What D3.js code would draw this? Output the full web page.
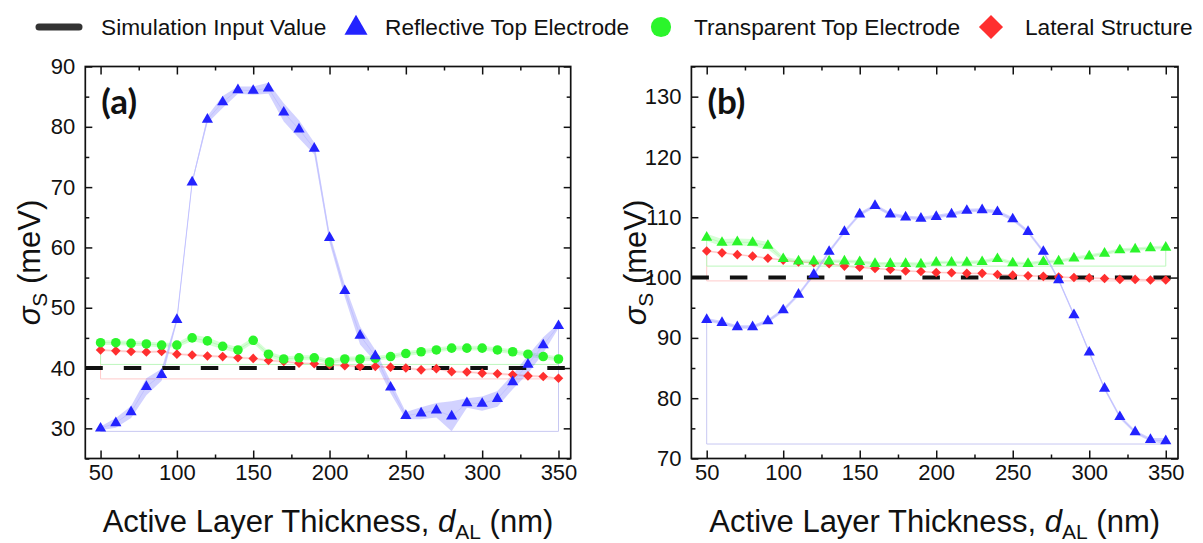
<!DOCTYPE html>
<html>
<head>
<meta charset="utf-8">
<script src="https://cdn.jsdelivr.net/npm/d3@7"></script>
<style>
  html, body { margin: 0; padding: 0; background: #fff; }
  svg { display: block; font-family: "Liberation Sans", Arial, sans-serif; }
</style>
</head>
<body>
<svg id="chart" width="1203" height="543"></svg>
<script>
// Active layer thickness (nm)
const thickness = [50, 60, 70, 80, 90, 100, 110, 120, 130, 140, 150, 160, 170, 180, 190, 200,
                   210, 220, 230, 240, 250, 260, 270, 280, 290, 300, 310, 320, 330, 340, 350];

// Panel (a): input sigma = 40 meV
const inputA = 40;
const reflectiveA = [30.0, 30.9, 32.7, 36.9, 38.9, 48.0, 70.8, 81.2, 84.1, 86.1, 86.0, 86.4, 82.4, 79.6, 76.4, 61.6,
                     52.8, 45.4, 42.0, 36.8, 32.1, 32.5, 33.0, 32.0, 34.2, 34.1, 34.9, 37.7, 40.6, 43.8, 47.0];
const reflectiveErrA = [0.3, 0.8, 1.0, 1.4, 1.0, 0.4, 0.3, 0.6, 1.0, 0.6, 0.7, 0.9, 1.5, 1.5, 1.0, 0.8,
                        1.0, 1.5, 1.0, 1.0, 0.6, 1.0, 1.2, 2.5, 0.8, 1.2, 1.3, 1.2, 1.5, 1.3, 0.4];
const transparentA = [44.2, 44.2, 44.1, 44.0, 43.8, 43.8, 45.0, 44.5, 43.6, 43.0, 44.6, 42.3, 41.5, 41.7, 41.7, 41.0,
                      41.5, 41.5, 41.6, 41.9, 42.4, 42.7, 43.0, 43.3, 43.3, 43.3, 43.0, 42.7, 42.3, 41.9, 41.5];
const transparentErrA = [0.4, 0.4, 0.4, 0.4, 0.4, 0.4, 0.5, 0.6, 0.5, 0.5, 0.5, 0.5, 0.4, 0.4, 0.4, 0.4,
                         0.4, 0.4, 0.4, 0.4, 0.4, 0.4, 0.4, 0.4, 0.4, 0.4, 0.4, 0.4, 0.4, 0.4, 0.4];
const lateralA = [43.0, 42.85, 42.75, 42.65, 42.75, 42.3, 42.15, 42.0, 41.9, 41.7, 41.6, 41.25, 41.1, 40.8, 40.7, 40.55,
                  40.4, 40.25, 40.25, 40.15, 40.0, 39.7, 39.9, 39.4, 39.35, 39.15, 39.05, 38.9, 38.7, 38.6, 38.3];
const lateralErrA = [0.2, 0.2, 0.2, 0.2, 0.2, 0.2, 0.2, 0.2, 0.2, 0.2, 0.2, 0.2, 0.2, 0.2, 0.2, 0.2,
                     0.2, 0.2, 0.2, 0.2, 0.2, 0.2, 0.2, 0.2, 0.2, 0.2, 0.2, 0.2, 0.2, 0.2, 0.1];

// Panel (b): input sigma = 100 meV
const inputB = 100;
const reflectiveB = [93.0, 92.5, 91.8, 91.8, 92.8, 94.6, 97.2, 100.5, 104.3, 107.6, 110.5, 111.9, 110.5, 110.0, 109.8, 110.1,
                     110.5, 111.1, 111.2, 110.9, 109.7, 107.6, 104.3, 99.6, 93.8, 87.6, 81.6, 76.9, 74.4, 73.1, 72.9];
const reflectiveErrB = [0.3, 0.3, 0.3, 0.3, 0.3, 0.3, 0.3, 0.3, 0.3, 0.3, 0.3, 0.3, 0.3, 0.3, 0.3, 0.3,
                        0.3, 0.3, 0.3, 0.3, 0.3, 0.3, 0.3, 0.3, 0.3, 0.3, 0.3, 0.3, 0.3, 0.3, 0.5];
const transparentB = [106.65, 105.8, 105.9, 105.8, 105.3, 103.1, 102.7, 102.7, 102.7, 102.7, 102.6, 102.3, 102.3, 102.3, 102.2, 102.5,
                      102.5, 102.5, 102.6, 103.1, 102.4, 102.3, 102.6, 102.7, 103.2, 103.55, 104.0, 104.55, 104.7, 104.9, 105.0];
const transparentErrB = [0.6, 0.6, 0.6, 0.6, 0.6, 0.4, 0.3, 0.3, 0.3, 0.3, 0.3, 0.3, 0.3, 0.3, 0.3, 0.3,
                         0.3, 0.3, 0.3, 0.3, 0.3, 0.3, 0.3, 0.3, 0.3, 0.3, 0.3, 0.3, 0.3, 0.3, 0.3];
const lateralB = [104.4, 104.1, 103.8, 103.55, 103.2, 102.9, 102.6, 102.45, 102.3, 101.9, 101.7, 101.5, 101.35, 101.1, 101.0, 100.85,
                  100.8, 100.7, 100.7, 100.5, 100.4, 100.3, 100.2, 100.1, 100.0, 99.95, 99.85, 99.7, 99.7, 99.6, 99.6];
const lateralErrB = [0.15, 0.15, 0.15, 0.15, 0.15, 0.15, 0.15, 0.15, 0.15, 0.15, 0.15, 0.15, 0.15, 0.15, 0.15, 0.15,
                     0.15, 0.15, 0.15, 0.15, 0.15, 0.15, 0.15, 0.15, 0.15, 0.15, 0.15, 0.15, 0.15, 0.15, 0.1];

// Axis ticks
const xMajor = [50, 100, 150, 200, 250, 300, 350];
const xMinor = [75, 125, 175, 225, 275, 325];
const yMajorA = [30, 40, 50, 60, 70, 80, 90];
const yMinorA = [25, 35, 45, 55, 65, 75, 85];
const yMajorB = [70, 80, 90, 100, 110, 120, 130];
const yMinorB = [75, 85, 95, 105, 115, 125, 135];

const legendLabels = ["Simulation Input Value", "Reflective Top Electrode", "Transparent Top Electrode", "Lateral Structure"];

const BLUE = "#2323ff", GREEN = "#2bf52b", RED = "#ff2f2f";

const svg = d3.select("#chart");

function drawPanel(cfg) {
  const x = d3.scaleLinear().domain([40, 358]).range([cfg.left, cfg.right]);
  const y = d3.scaleLinear().domain(cfg.yDomain).range([458.5, 66.5]);
  const g = svg.append("g");

  const series = [
    { vals: cfg.lateral, err: cfg.lateralErr, color: RED, band: "#ff3030", bandOp: 0.13, line: "#ffc4c4", base: "#ffcaca", shape: "diamond" },
    { vals: cfg.transparent, err: cfg.transparentErr, color: GREEN, band: "#33ff33", bandOp: 0.2, line: "#bff7bf", base: "#bdf7bd", shape: cfg.transparentShape },
    { vals: cfg.reflective, err: cfg.reflectiveErr, color: BLUE, band: "#3333ff", bandOp: 0.22, line: "#c2c2ff", base: "#c8c8f2", shape: "triangle" }
  ];

  series.forEach(s => {
    const rows = thickness.map((t, i) => ({ t, v: s.vals[i], lo: s.vals[i] - s.err[i], hi: s.vals[i] + s.err[i] }));
    const minLo = d3.min(rows, d => d.lo);
    // uncertainty band
    g.append("path")
      .attr("d", d3.area().x(d => x(d.t)).y0(d => y(d.lo)).y1(d => y(d.hi))(rows))
      .attr("fill", s.band).attr("fill-opacity", s.bandOp);
    // outline of the band's baseline
    const first = rows[0], last = rows[rows.length - 1];
    g.append("path")
      .attr("d", `M${x(first.t)},${y(first.v)}V${y(minLo)}H${x(last.t)}V${y(last.v)}`)
      .attr("fill", "none").attr("stroke", s.base).attr("stroke-width", 1);
    // connecting line
    g.append("path")
      .attr("d", d3.line().x(d => x(d.t)).y(d => y(d.v))(rows))
      .attr("fill", "none").attr("stroke", s.line).attr("stroke-width", 1);
    s.rows = rows;
  });

  // simulation input value
  g.append("line")
    .attr("x1", x(40)).attr("x2", x(358))
    .attr("y1", y(cfg.input)).attr("y2", y(cfg.input))
    .attr("stroke", "#111").attr("stroke-width", 4)
    .attr("stroke-dasharray", "17.5 21");

  // markers
  const shapes = {
    triangle: d3.symbol(d3.symbolTriangle, 54),
    circle: d3.symbol(d3.symbolCircle, 72),
    diamond: d3.symbol(d3.symbolSquare, 46)
  };
  series.forEach(s => {
    g.append("g").selectAll("path").data(s.rows).join("path")
      .attr("d", shapes[s.shape]())
      .attr("transform", d => `translate(${x(d.t)},${y(d.v)})` + (s.shape === "diamond" ? " rotate(45)" : ""))
      .attr("fill", s.color);
  });

  // frame
  g.append("rect")
    .attr("x", cfg.left).attr("y", 66.5)
    .attr("width", cfg.right - cfg.left).attr("height", 458.5 - 66.5)
    .attr("fill", "none").attr("stroke", "#111").attr("stroke-width", 1.7);

  const fmt = d3.format("d");
  const axes = [
    [d3.axisBottom(x).tickValues(xMajor).tickSize(-8).tickPadding(6).tickFormat(fmt), `translate(0,458.5)`, true],
    [d3.axisBottom(x).tickValues(xMinor).tickSize(-4).tickFormat(""), `translate(0,458.5)`, false],
    [d3.axisTop(x).tickValues(xMajor).tickSize(-8).tickFormat(""), `translate(0,66.5)`, false],
    [d3.axisTop(x).tickValues(xMinor).tickSize(-4).tickFormat(""), `translate(0,66.5)`, false],
    [d3.axisLeft(y).tickValues(cfg.yMajor).tickSize(-7).tickPadding(10).tickFormat(fmt), `translate(${cfg.left},0)`, true],
    [d3.axisLeft(y).tickValues(cfg.yMinor).tickSize(-4).tickFormat(""), `translate(${cfg.left},0)`, false],
    [d3.axisRight(y).tickValues(cfg.yMajor).tickSize(-7).tickFormat(""), `translate(${cfg.right},0)`, false],
    [d3.axisRight(y).tickValues(cfg.yMinor).tickSize(-4).tickFormat(""), `translate(${cfg.right},0)`, false]
  ];
  axes.forEach(([ax, tr, labelled]) => {
    const a = g.append("g").attr("transform", tr).call(ax);
    a.select(".domain").remove();
    a.selectAll(".tick line").attr("stroke", "#111").attr("stroke-width", 1.5);
    if (labelled) a.selectAll(".tick text").attr("font-size", 22).attr("fill", "#111")
      .attr("font-family", "'Liberation Sans', Arial, sans-serif");
  });

  // panel tag
  g.append("text").attr("x", cfg.left + 16).attr("y", 114)
    .attr("font-family", "Lato, 'Open Sans', sans-serif").attr("font-weight", 700)
    .attr("font-size", 35).attr("fill", "#111").text(cfg.tag);

  // x axis title
  const xt = g.append("text").attr("x", (cfg.left + cfg.right) / 2).attr("y", 532)
    .attr("text-anchor", "middle").attr("font-size", 31).attr("fill", "#111");
  xt.append("tspan").text("Active Layer Thickness, ");
  xt.append("tspan").attr("font-style", "italic").text("d");
  xt.append("tspan").attr("font-size", 21).attr("dy", 7).text("AL");
  xt.append("tspan").attr("dy", -7).text(" (nm)");

  // y axis title
  const yt = g.append("text")
    .attr("transform", `translate(${cfg.left - 45},262.5) rotate(-90)`)
    .attr("text-anchor", "middle").attr("font-size", 31).attr("fill", "#111");
  yt.append("tspan").attr("font-style", "italic").text("σ");
  yt.append("tspan").attr("font-size", 21).attr("dy", 7).text("S");
  yt.append("tspan").attr("dy", -7).text(" (meV)");
}

drawPanel({
  left: 85.3, right: 570.7, yDomain: [25, 90], input: inputA,
  reflective: reflectiveA, reflectiveErr: reflectiveErrA,
  transparent: transparentA, transparentErr: transparentErrA, transparentShape: "circle",
  lateral: lateralA, lateralErr: lateralErrA,
  yMajor: yMajorA, yMinor: yMinorA, tag: "(a)"
});
drawPanel({
  left: 691.4, right: 1178, yDomain: [70, 135], input: inputB,
  reflective: reflectiveB, reflectiveErr: reflectiveErrB,
  transparent: transparentB, transparentErr: transparentErrB, transparentShape: "triangle",
  lateral: lateralB, lateralErr: lateralErrB,
  yMajor: yMajorB, yMinor: yMinorB, tag: "(b)"
});

// legend
const legend = svg.append("g").attr("font-size", 22.7).attr("fill", "#111");
const legendItems = [
  { sym: "line", x: 59, tx: 101 },
  { sym: "triangle", x: 356, tx: 385, color: BLUE },
  { sym: "circle", x: 661, tx: 694, color: GREEN },
  { sym: "diamond", x: 991, tx: 1025, color: RED }
];
legendItems.forEach((it, i) => {
  if (it.sym === "line") {
    legend.append("line").attr("x1", it.x - 20).attr("x2", it.x + 20).attr("y1", 27).attr("y2", 27)
      .attr("stroke", "#333").attr("stroke-width", 7).attr("stroke-linecap", "round");
  } else {
    const sym = it.sym === "triangle" ? d3.symbolTriangle : it.sym === "circle" ? d3.symbolCircle : d3.symbolSquare;
    const size = it.sym === "triangle" ? 230 : it.sym === "circle" ? 320 : 290;
    legend.append("path").attr("d", d3.symbol(sym, size)())
      .attr("transform", `translate(${it.x},${it.sym === "triangle" ? 28 : 27})` + (it.sym === "diamond" ? " rotate(45)" : ""))
      .attr("fill", it.color);
  }
  legend.append("text").attr("x", it.tx).attr("y", 35).text(legendLabels[i]);
});
</script>
</body>
</html>
